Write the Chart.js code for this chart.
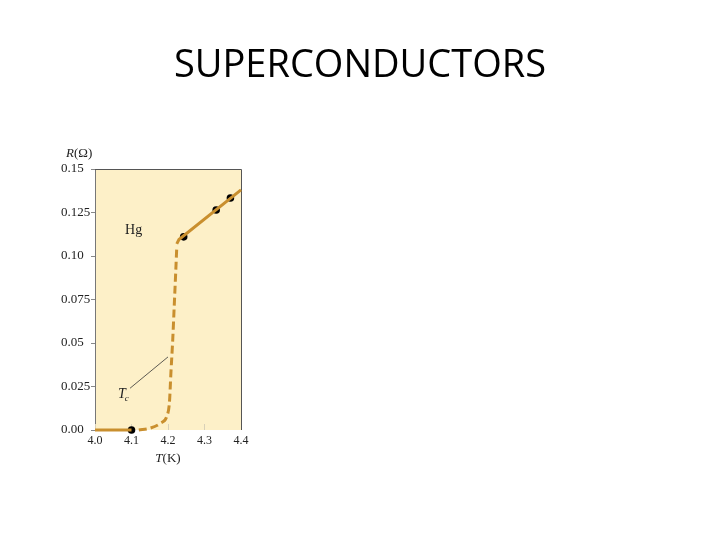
<!DOCTYPE html>
<html>
<head>
<meta charset="utf-8">
<script src="https://cdn.jsdelivr.net/npm/chart.js@4/dist/chart.umd.min.js"></script>
<style>
  html, body { margin: 0; background: #fff; }
  canvas { display: block; }
</style>
</head>
<body>
<canvas id="chart" width="720" height="540"></canvas>
<script>
// values
const normalT = [4.0, 4.1];                 // superconducting state, solid
const normalR = [0, 0];
const dropT = [4.12, 4.15, 4.18, 4.197, 4.204, 4.208, 4.213, 4.217, 4.221, 4.224];
const dropR = [0, 0.001, 0.004, 0.008, 0.016, 0.033, 0.052, 0.071, 0.090, 0.105];
const metalT = [4.224, 4.23, 4.4];
const metalR = [0.107, 0.1095, 0.138];
const measT = [4.1, 4.243, 4.332, 4.371];
const measR = [0, 0.111, 0.1264, 0.1333];
const leaderT = [4.096, 4.2];
const leaderR = [0.024, 0.042];

const xTicks = [4.0, 4.1, 4.2, 4.3, 4.4];
const xTickLabels = ['4.0', '4.1', '4.2', '4.3', '4.4'];
const yTicks = [0, 0.025, 0.05, 0.075, 0.1, 0.125, 0.15];
const yTickLabels = ['0.00', '0.025', '0.05', '0.075', '0.10', '0.125', '0.15'];

const curveColor = '#c98f2e';
const serif = '"Liberation Serif", "DejaVu Serif", serif';

const toPts = (xs, ys) => xs.map((x, i) => ({x: x, y: ys[i]}));

const decor = {
    id: 'decor',
    beforeDraw(chart) {
        const a = chart.chartArea, ctx = chart.ctx;
        ctx.save();
        ctx.fillStyle = '#fdf0c8';
        ctx.fillRect(a.left, a.top, a.right - a.left, a.bottom - a.top);
        ctx.restore();
    },
    beforeDatasetsDraw(chart) {
        const a = chart.chartArea, ctx = chart.ctx, xs = chart.scales.x;
        ctx.save();
        // small inner tick marks on the T axis
        ctx.strokeStyle = '#d8d0b8';
        ctx.lineWidth = 1;
        xTicks.forEach(v => {
            const px = Math.round(xs.getPixelForValue(v)) + 0.5;
            ctx.beginPath();
            ctx.moveTo(px, a.bottom);
            ctx.lineTo(px, a.bottom - 6);
            ctx.stroke();
        });
        // frame top and right
        ctx.strokeStyle = '#555';
        ctx.beginPath();
        ctx.moveTo(a.left, a.top + 0.5);
        ctx.lineTo(a.right + 0.5, a.top + 0.5);
        ctx.lineTo(a.right + 0.5, a.bottom);
        ctx.stroke();
        ctx.restore();
    },
    afterDraw(chart) {
        const a = chart.chartArea, ctx = chart.ctx;
        const xs = chart.scales.x, ys = chart.scales.y;
        ctx.save();
        ctx.fillStyle = '#000';
        ctx.textBaseline = 'middle';
        ctx.textAlign = 'center';
        ctx.font = '38px "Open Sans", sans-serif';
        ctx.fillText('SUPERCONDUCTORS', chart.width / 2, 66);

        ctx.fillStyle = '#222';
        ctx.textAlign = 'left';
        ctx.textBaseline = 'alphabetic';

        // y axis title R(Ω)
        let x = a.left - 29;
        ctx.font = 'italic 13px ' + serif;
        ctx.fillText('R', x, a.top - 12);
        x += ctx.measureText('R').width;
        ctx.font = '13px ' + serif;
        ctx.fillText('(Ω)', x, a.top - 12);

        // x axis title T(K)
        ctx.font = 'italic 13px ' + serif;
        const wT = ctx.measureText('T').width;
        ctx.font = '13px ' + serif;
        const wK = ctx.measureText('(K)').width;
        x = (a.left + a.right) / 2 - (wT + wK) / 2;
        ctx.font = 'italic 13px ' + serif;
        ctx.fillText('T', x, a.bottom + 32);
        ctx.font = '13px ' + serif;
        ctx.fillText('(K)', x + wT, a.bottom + 32);

        // Hg label
        ctx.font = '14px ' + serif;
        ctx.fillText('Hg', xs.getPixelForValue(4.0825), ys.getPixelForValue(0.1126));

        // Tc label
        const tx = xs.getPixelForValue(4.063), ty = ys.getPixelForValue(0.0184);
        ctx.font = 'italic 14px ' + serif;
        ctx.fillText('T', tx, ty);
        const w = ctx.measureText('T').width;
        ctx.font = 'italic 9px ' + serif;
        ctx.fillText('c', tx + w - 1, ty + 3);
        ctx.restore();
    }
};

new Chart(document.getElementById('chart'), {
    type: 'line',
    data: {
        datasets: [
            {
                data: toPts(normalT, normalR),
                borderColor: curveColor,
                borderWidth: 3,
                pointRadius: 0
            },
            {
                data: toPts(dropT, dropR),
                borderColor: curveColor,
                borderWidth: 3,
                borderDash: [8, 4],
                pointRadius: 0,
                cubicInterpolationMode: 'monotone'
            },
            {
                data: toPts(metalT, metalR),
                borderColor: curveColor,
                borderWidth: 3,
                pointRadius: 0
            },
            {
                data: toPts(leaderT, leaderR),
                borderColor: '#333',
                borderWidth: 0.8,
                pointRadius: 0
            },
            {
                data: toPts(measT, measR),
                showLine: false,
                pointRadius: 3.8,
                pointBackgroundColor: '#000',
                pointBorderColor: '#000',
                pointBorderWidth: 0
            }
        ]
    },
    options: {
        responsive: false,
        animation: false,
        devicePixelRatio: 1,
        clip: false,
        layout: {
            padding: {left: 61, right: 479, top: 169, bottom: 70}
        },
        plugins: {
            legend: {display: false},
            tooltip: {enabled: false}
        },
        scales: {
            x: {
                type: 'linear',
                min: 4.0,
                max: 4.4,
                afterBuildTicks: s => { s.ticks = xTicks.map(v => ({value: v})); },
                afterFit: s => { s.height = 40; },
                grid: {display: false, drawTicks: false},
                border: {display: false},
                ticks: {
                    color: '#222',
                    padding: 4,
                    maxRotation: 0,
                    font: {family: serif, size: 12},
                    callback: (v, i) => xTickLabels[i]
                }
            },
            y: {
                type: 'linear',
                min: 0,
                max: 0.15,
                afterBuildTicks: s => { s.ticks = yTicks.map(v => ({value: v})); },
                afterFit: s => { s.width = 34; },
                grid: {drawOnChartArea: false, drawTicks: true, tickLength: 4, color: '#888'},
                border: {display: true, color: '#777', width: 1},
                ticks: {
                    color: '#222',
                    crossAlign: 'far',
                    font: {family: serif, size: 13},
                    callback: (v, i) => yTickLabels[i]
                }
            }
        }
    },
    plugins: [decor]
});
</script>
</body>
</html>
